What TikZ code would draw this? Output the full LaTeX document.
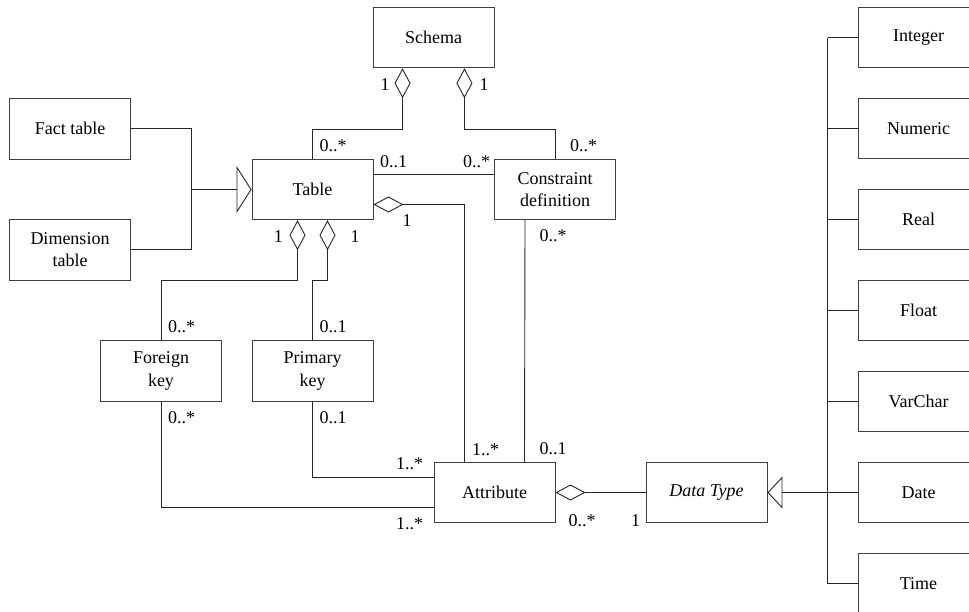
\documentclass[tikz,border=0pt]{standalone}
\usepackage{fontspec}
\setmainfont{Liberation Serif}
\usetikzlibrary{arrows.meta}
\begin{document}
\begin{tikzpicture}[x=1pt,y=-1pt,
  box/.style={draw=black!75, line width=0.9pt, minimum width=121pt, minimum height=60.5pt,
    inner sep=0pt, align=center, font=\fontsize{18}{22.5}\selectfont},
  lbl/.style={inner sep=0pt, font=\fontsize{18}{22}\selectfont},
  wire/.style={draw=black!85, line width=0.9pt},
  aggr/.style={wire, {Diamond[open,length=30pt,width=16pt]}-},
  genz/.style={wire, -{Triangle[open,length=15pt,width=#1]}},
]
\useasboundingbox (0,0) rectangle (969,611);
\clip (0,0) rectangle (969,611);

% classes
\node[box] (schema)     at (433.5,37.5)  {Schema};
\node[box] (fact)       at (70,128.8)    {Fact table};
\node[box] (dim)        at (70,249.8)    {Dimension\\table};
\node[box] (table)      at (312.5,189.5) {Table};
\node[box] (constraint) at (555,189.5)   {Constraint\\definition};
\node[box] (fk)         at (161,371)     {Foreign\\key};
\node[box] (pk)         at (312.5,371)   {Primary\\key};
\node[box] (attr)       at (494.5,492.5) {Attribute};
\node[box] (dtype)      at (706.5,492.5) {\itshape Data Type};

% concrete data types
\node[box] (integer) at (918.5,37.5)  {Integer};
\node[box] (numeric) at (918.5,128.5) {Numeric};
\node[box] (real)    at (918.5,219.5) {Real};
\node[box] (float)   at (918.5,310.5) {Float};
\node[box] (varchar) at (918.5,401.5) {VarChar};
\node[box] (date)    at (918.5,492.5) {Date};
\node[box] (time)    at (918.5,583.5) {Time};

% generalisation of fact and dimension tables
\coordinate (gbus) at (191.5,189.5);
\draw[wire] (fact.east) -| (gbus);
\draw[wire] (dim.east) -| (gbus);
\draw[genz=47pt] (gbus) -- (table.west);

% generalisation of data types
\draw[wire] ([xshift=-30pt]integer.west) -- ([xshift=-30pt]time.west);
\foreach \t in {integer,numeric,real,float,varchar,time}
  \draw[wire] (\t.west) -- ++(-30,0);
\draw[genz=32pt] (date.west) -- (dtype.east);

% aggregations and associations
\draw[aggr] ([xshift=30pt]schema.south west) -- ++(0,61) -| (table.north);
\draw[aggr] ([xshift=-30pt]schema.south east) -- ++(0,61) -| (constraint.north);
\draw[wire] ([yshift=15.5pt]table.east) -- ([yshift=15.5pt]constraint.west);
\draw[aggr] ([yshift=-15pt]table.east) -| ([xshift=-30pt]attr.north);
\draw[wire] ([xshift=-30pt]constraint.south) -- ([xshift=30pt]attr.north);
\draw[aggr] ([xshift=-15pt]table.south) -- ++(0,60.5) -| (fk.north);
\draw[aggr] ([xshift=15pt]table.south) -- ++(0,60.5) -| (pk.north);
\draw[wire] (fk.south) |- ([yshift=-15pt]attr.west);
\draw[wire] (pk.south) |- ([yshift=15pt]attr.west);
\draw[aggr] (attr.east) -- (dtype.west);

% multiplicities
\node[lbl] (m1)  at (385,85)      {1};
\node[lbl] (m2)  at (484,85)      {1};
\node[lbl] (m3)  at (333,146)     {0..*};
\node[lbl] (m4)  at (583.5,146)   {0..*};
\node[lbl] (m5)  at (393.7,161.7) {0..1};
\node[lbl] (m6)  at (476.7,161.7) {0..*};
\node[lbl] (m7)  at (407,221)     {1};
\node[lbl] (m8)  at (278.3,236.7) {1};
\node[lbl] (m9)  at (355,237)     {1};
\node[lbl] (m10) at (181.7,326.7) {0..*};
\node[lbl] (m11) at (333,326.7)   {0..1};
\node[lbl] (m12) at (181.7,417.3) {0..*};
\node[lbl] (m13) at (333,417.3)   {0..1};
\node[lbl] (m14) at (553,236)     {0..*};
\node[lbl] (m15) at (485.5,449.3) {1..*};
\node[lbl] (m16) at (553,449)     {0..1};
\node[lbl] (m17) at (409.5,463.3) {1..*};
\node[lbl] (m18) at (409.5,524)   {1..*};
\node[lbl] (m19) at (582,520.7)   {0..*};
\node[lbl] (m20) at (635.7,520.7) {1};
\end{tikzpicture}
\end{document}
